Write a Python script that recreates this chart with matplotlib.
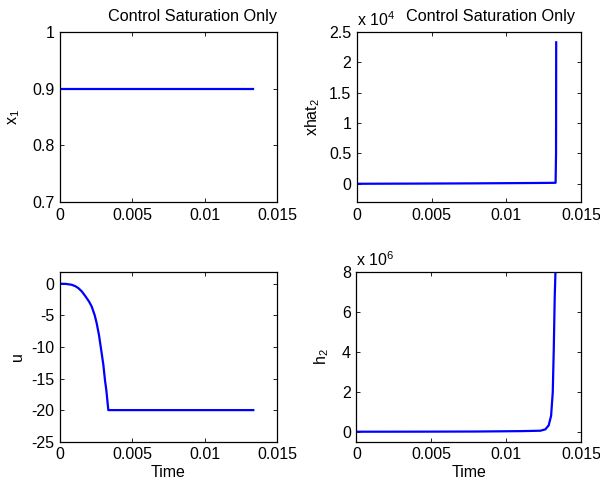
import matplotlib
matplotlib.use("Agg")
import matplotlib.pyplot as plt
from matplotlib.ticker import FormatStrFormatter, FuncFormatter

plt.rcParams['font.family'] = ['Liberation Sans', 'DejaVu Sans']
plt.rcParams['font.size'] = 11.5
plt.rcParams['mathtext.fontset'] = 'custom'
plt.rcParams['mathtext.rm'] = 'Liberation Sans'
plt.rcParams['mathtext.it'] = 'Liberation Sans'

TITLE = "Control Saturation Only"

# x_1 (constant)
t_x1 = [0.0, 0.01336]
x1 = [0.9, 0.9]

# xhat_2
t_xhat2 = [0.0, 0.004, 0.008, 0.012, 0.0133, 0.01333, 0.01334]
xhat2 = [0.0, 30.0, 70.0, 130.0, 160.0, 5000.0, 23300.0]

# u (control, saturated at -20)
t_u = [0.0, 0.0004, 0.0008, 0.00105, 0.00127, 0.0015, 0.00173, 0.002,
       0.00219, 0.0024, 0.00254, 0.0027, 0.00288, 0.003, 0.00311, 0.0032,
       0.00334, 0.01336]
u = [0.0, -0.03, -0.16, -0.38, -0.7, -1.2, -1.9, -2.8, -3.6, -5.0, -6.3,
     -8.2, -11.0, -12.9, -15.3, -16.8, -20.0, -20.0]

# h_2
t_h2 = [0.0, 0.004, 0.008, 0.011, 0.01227, 0.0126, 0.01282, 0.01298,
        0.01309, 0.01316, 0.01322, 0.01327, 0.01336]
h2 = [0.0, 0.003e6, 0.01e6, 0.03e6, 0.05e6, 0.12e6, 0.32e6, 0.8e6,
      1.97e6, 4.2e6, 6.7e6, 8.0e6, 12.0e6]

xticks = [0, 0.005, 0.01, 0.015]
blue = (0, 0, 1)
lw = 1.6

fig = plt.figure(figsize=(6.0, 4.83), dpi=100)
ax1 = fig.add_axes([0.100, 0.5818, 0.3617, 0.352])
ax2 = fig.add_axes([0.595, 0.5818, 0.3733, 0.352])
ax3 = fig.add_axes([0.100, 0.0855, 0.3617, 0.3513])
ax4 = fig.add_axes([0.594, 0.0855, 0.3750, 0.3513])


def style(ax):
    ax.set_xlim(0, 0.015)
    ax.set_xticks(xticks)
    ax.xaxis.set_major_formatter(FormatStrFormatter('%g'))
    ax.tick_params(direction='in', top=True, right=True, length=3,
                   width=0.6, labelsize=11.5, pad=4)
    for s in ax.spines.values():
        s.set_linewidth(0.9)


def scaled(power):
    return FuncFormatter(lambda v, p: '%g' % round(v / 10 ** power, 6))


# top left
ax1.plot(t_x1, x1, color=blue, lw=lw)
style(ax1)
ax1.set_ylim(0.7, 1.0)
ax1.set_yticks([0.7, 0.8, 0.9, 1.0])
ax1.yaxis.set_major_formatter(FormatStrFormatter('%g'))
ax1.set_ylabel('x$_1$', labelpad=7.5)
ax1.set_title(TITLE, x=0.61, pad=8, fontsize=11.7)

# top right
ax2.plot(t_xhat2, xhat2, color=blue, lw=lw)
style(ax2)
ax2.set_ylim(-3000, 25000)
ax2.set_yticks([0, 5000, 10000, 15000, 20000, 25000])
ax2.yaxis.set_major_formatter(scaled(4))
ax2.set_ylabel('xhat$_2$', labelpad=5)
ax2.set_title(TITLE, x=0.595, pad=8, fontsize=11.7)
ax2.text(0.0, 1.02, 'x 10$^{4}$', transform=ax2.transAxes,
         ha='left', va='bottom')

# bottom left
ax3.plot(t_u, u, color=blue, lw=lw)
style(ax3)
ax3.set_ylim(-25, 1.85)
ax3.set_yticks([-25, -20, -15, -10, -5, 0])
ax3.yaxis.set_major_formatter(FormatStrFormatter('%g'))
ax3.set_ylabel('u', labelpad=4.5)
ax3.set_xlabel('Time', labelpad=2)

# bottom right
ax4.plot(t_h2, h2, color=blue, lw=lw)
style(ax4)
ax4.set_ylim(-0.5e6, 8e6)
ax4.set_yticks([0, 2e6, 4e6, 6e6, 8e6])
ax4.yaxis.set_major_formatter(scaled(6))
ax4.set_ylabel('h$_2$', labelpad=7.5)
ax4.set_xlabel('Time', labelpad=2)
ax4.text(0.0, 1.02, 'x 10$^{6}$', transform=ax4.transAxes,
         ha='left', va='bottom')

fig.savefig('out.png', dpi=100)
